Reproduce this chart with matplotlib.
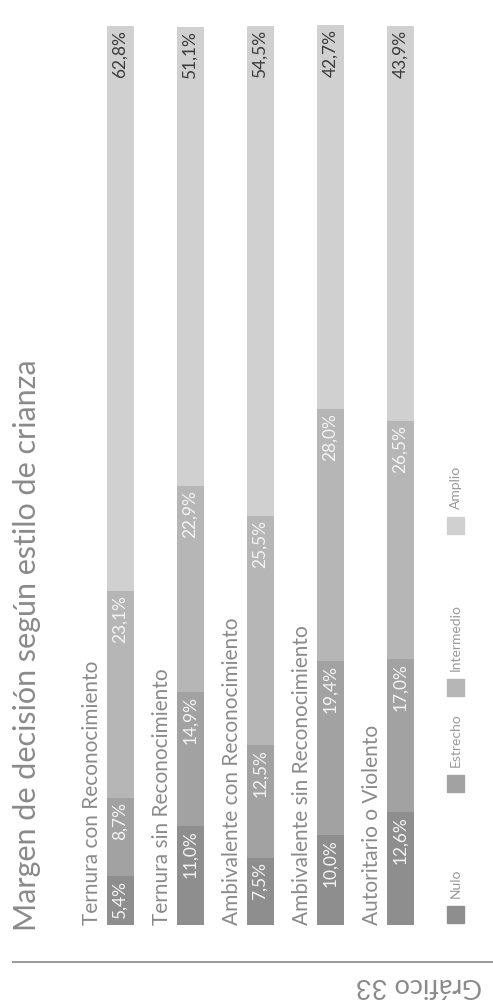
import matplotlib

matplotlib.use("Agg")
import matplotlib.pyplot as plt
import numpy as np
from matplotlib.patches import Rectangle

plt.rcParams["font.family"] = ["Lato", "DejaVu Sans"]

# datos (porcentajes)
estilos = [
    "Ternura con Reconocimiento",
    "Ternura sin Reconocimiento",
    "Ambivalente con Reconocimiento",
    "Ambivalente sin Reconocimiento",
    "Autoritario o Violento",
]
categorias = ["Nulo", "Estrecho", "Intermedio", "Amplio"]
nulo = [5.4, 11.0, 7.5, 10.0, 12.6]
estrecho = [8.7, 14.9, 12.5, 19.4, 17.0]
intermedio = [23.1, 22.9, 25.5, 28.0, 26.5]
amplio = [62.8, 51.1, 54.5, 42.7, 43.9]

colores = ["#8e8e8e", "#a2a2a2", "#b6b6b6", "#d0d0d0"]
color_valor = ["#f4f4f4", "#f4f4f4", "#f4f4f4", "#3a3a3a"]
gris_texto = "#8a8a8a"

W, H = 493, 1008
fig = plt.figure(figsize=(W / 100, H / 100), dpi=100)
ax = fig.add_axes([0, 0, 1, 1])


def fx(px):
    return px / W


def fy(py):
    return 1 - py / H


# eje: pixel 925 -> 0 %, pixel 26 -> 100 %
y0, y100 = 925, 26
esc = (y0 - y100) / 100
ax.set_xlim(0, W)
ax.set_ylim(-(H - y0) / esc, y0 / esc)
ax.axis("off")

x = 120 + 70 * np.arange(len(estilos))
ancho = 27
series = [nulo, estrecho, intermedio, amplio]
base = np.zeros(len(estilos))
for serie, col, ctxt in zip(series, colores, color_valor):
    vals = np.array(serie)
    ax.bar(x, vals, ancho, bottom=base, color=col, linewidth=0)
    fin = base + vals
    for xi, fi, v in zip(x, fin, vals):
        ax.annotate(f"{v:.1f}%".replace(".", ","), xy=(xi, fi), xytext=(0, -3),
                    textcoords="offset points", rotation=90, ha="center",
                    va="top", fontsize=12.5, color=ctxt)
    base = fin

for xi, nombre in zip(x, estilos):
    ax.text(xi - 28, 0, nombre, rotation=90, ha="center", va="bottom",
            fontsize=15, color=gris_texto)

# título
fig.text(fx(27), fy(931), "Margen de decisión según estilo de crianza",
         rotation=90, ha="center", va="bottom", fontsize=22, color=gris_texto)

# leyenda
ley_y = [906, 775, 679, 517]
for cat, col, py in zip(categorias, colores, ley_y):
    fig.patches.append(Rectangle((fx(447), fy(py + 17)), 17 / W, 17 / H,
                                 transform=fig.transFigure, color=col))
    fig.text(fx(456), fy(py - 8), cat, rotation=90, ha="center", va="bottom",
             fontsize=10, color="#9a9a9a")

# pie
ax.plot([12, W], [(y0 - 962) / esc] * 2, color="#9a9a9a", lw=1.4,
        solid_capstyle="butt")
fig.text(fx(356), fy(985), "Gráfico 33", rotation=180, ha="left", va="center",
         fontsize=19.5, color=gris_texto)

fig.savefig("out.png", dpi=100)
